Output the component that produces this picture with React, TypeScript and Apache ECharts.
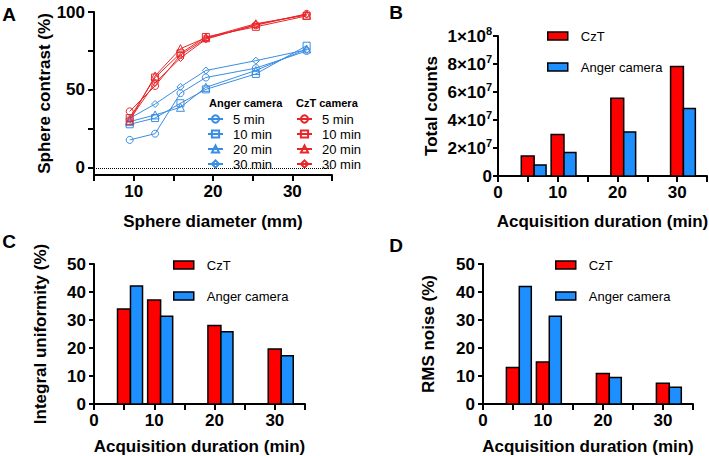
import React, { useEffect, useRef } from 'react';
import * as echarts from 'echarts';

// ---------- data ----------
const diameters = [9.5, 12.7, 15.9, 19.1, 25.4, 31.8];
const angerContrast5 = [18, 22, 48, 58, 64, 75];
const angerContrast10 = [28, 32, 41.5, 50.4, 60.3, 78.4];
const angerContrast20 = [29.7, 34, 38.9, 51.7, 62.5, 76.3];
const angerContrast30 = [31.8, 41, 52, 62.5, 68.8, 75.8];
const cztContrast5 = [36.3, 52.6, 72.4, 83, 91.5, 98.8];
const cztContrast10 = [32, 58, 73.5, 84, 90.5, 97.5];
const cztContrast20 = [30.5, 59, 76.5, 83.5, 92.5, 98];
const cztContrast30 = [31, 54.5, 70.5, 82.5, 92, 98.5];
const contrastTickValues = [0, 25, 50, 75, 100];
const contrastLabelValues = [0, 50, 100];

const durations = [5, 10, 20, 30];
const cztCounts = [14.3e6, 29.6e6, 55.6e6, 78.3e6];
const angerCounts = [7.9e6, 16.7e6, 31.5e6, 48.2e6];
const cztUniformity = [33.9, 37.1, 28.0, 19.6];
const angerUniformity = [42.1, 31.3, 25.8, 17.2];
const cztNoise = [13.0, 15.0, 10.9, 7.4];
const angerNoise = [42.0, 31.3, 9.5, 6.0];

const minuteLabels = ['5 min', '10 min', '20 min', '30 min'];
const symbols = ['circle', 'rect', 'triangle', 'diamond'];

// ---------- style ----------
const FONT = '"Liberation Sans", Arial, sans-serif';
const LINE_BLUE = '#3a8de3';
const LINE_RED = '#e8262a';
const BAR_RED = '#ff0000';
const BAR_BLUE = '#1e8fff';
// bar extents, in minutes relative to the duration value
const RED_FROM = -1.1;
const RED_TO = 1.05;
const BLUE_FROM = 1.05;
const BLUE_TO = 3.05;

const axisLineStyle = { color: '#000', width: 2 };
const tickLabel = { fontSize: 17, fontWeight: 'bold', color: '#000', fontFamily: FONT };
const nameStyle = { fontSize: 17, fontWeight: 'bold', color: '#000', fontFamily: FONT };

function makeXAxis(gridIndex: number, min: number, name: string, nameGap: number) {
  return {
    gridIndex,
    type: 'value',
    min,
    max: 35,
    interval: 5,
    axisLine: { show: true, onZero: false, lineStyle: axisLineStyle },
    axisTick: { show: true, length: 6, lineStyle: axisLineStyle },
    axisLabel: {
      ...tickLabel,
      margin: 8,
      formatter: (v: number) => (v % 10 === 0 ? String(v) : ''),
    },
    splitLine: { show: false },
    name,
    nameLocation: 'middle',
    nameGap,
    nameTextStyle: nameStyle,
  };
}

function makeBarSeries(name: string, axis: number, values: number[], color: string, from: number, to: number) {
  return {
    type: 'custom',
    name,
    xAxisIndex: axis,
    yAxisIndex: axis,
    data: durations.map((d, i) => [d, values[i]]),
    encode: { x: 0, y: 1 },
    itemStyle: { color, borderColor: '#000', borderWidth: 1.5 },
    silent: true,
    renderItem: (_params: any, api: any) => {
      const x = api.value(0) as number;
      const y = api.value(1) as number;
      const tl = api.coord([x + from, y]);
      const br = api.coord([x + to, 0]);
      return {
        type: 'rect',
        shape: { x: tl[0], y: tl[1], width: br[0] - tl[0], height: br[1] - tl[1] },
        style: { fill: color, stroke: '#000', lineWidth: 1.5 },
      };
    },
  };
}

function makeLineSeries(name: string, values: number[], color: string, symbol: string, withZeroLine: boolean) {
  const s: any = {
    type: 'line',
    name,
    xAxisIndex: 0,
    yAxisIndex: 0,
    data: diameters.map((d, i) => [d, values[i]]),
    symbol,
    symbolSize: symbol === 'triangle' ? 8 : 7,
    lineStyle: { color, width: 1 },
    itemStyle: { color: 'rgba(0,0,0,0)', borderColor: color, borderWidth: 1 },
    silent: true,
  };
  if (withZeroLine) {
    s.markLine = {
      silent: true,
      symbol: 'none',
      label: { show: false },
      lineStyle: { color: '#000', type: 'dotted', width: 1 },
      data: [{ yAxis: 0 }],
    };
  }
  return s;
}

function barLegend(left: number, top: number) {
  return {
    orient: 'vertical',
    left,
    top,
    padding: 0,
    itemGap: 17,
    itemWidth: 20,
    itemHeight: 8,
    selectedMode: false,
    textStyle: { fontSize: 13, color: '#000', fontFamily: FONT, lineHeight: 14, padding: [0, 0, 0, 8] },
    data: [
      { name: 'CzT', icon: 'rect', itemStyle: { color: BAR_RED, borderColor: '#000', borderWidth: 1.5 } },
      { name: 'Anger camera', icon: 'rect', itemStyle: { color: BAR_BLUE, borderColor: '#000', borderWidth: 1.5 } },
    ],
  };
}

function lineLegend(left: number, prefix: string) {
  return {
    orient: 'vertical',
    left,
    top: 112.5,
    padding: 0,
    itemGap: 2,
    itemWidth: 15,
    itemHeight: 9,
    selectedMode: false,
    formatter: (n: string) => n.split(', ')[1],
    textStyle: { fontSize: 13, color: '#000', fontFamily: FONT, lineHeight: 13, padding: [0, 0, 0, 5] },
    data: minuteLabels.map((m) => prefix + ', ' + m),
  };
}

function letter(text: string, x: number, y: number) {
  return {
    type: 'text',
    x,
    y,
    style: { text, fontSize: 19, fontWeight: 'bold', fontFamily: FONT, fill: '#000', align: 'center', verticalAlign: 'middle' },
  };
}

function header(text: string, x: number, y: number) {
  return {
    type: 'text',
    x,
    y,
    style: { text, fontSize: 11, fontWeight: 'bold', fontFamily: FONT, fill: '#000', align: 'left', verticalAlign: 'middle' },
  };
}

export default function App() {
  const ref = useRef<HTMLDivElement>(null);

  useEffect(() => {
    document.body.style.margin = '0';
    if (!ref.current) return;
    const chart = echarts.init(ref.current, null, { renderer: 'svg' });

    const angerSets = [angerContrast5, angerContrast10, angerContrast20, angerContrast30];
    const cztSets = [cztContrast5, cztContrast10, cztContrast20, cztContrast30];

    const option: any = {
      animation: false,
      textStyle: { fontFamily: FONT },
      grid: [
        { left: 94, top: 12, width: 238, height: 163, containLabel: false, outerBoundsMode: 'none' },
        { left: 498, top: 36, width: 209, height: 140, containLabel: false, outerBoundsMode: 'none' },
        { left: 94, top: 264, width: 211, height: 140, containLabel: false, outerBoundsMode: 'none' },
        { left: 483, top: 264, width: 210, height: 140, containLabel: false, outerBoundsMode: 'none' },
      ],
      xAxis: [
        makeXAxis(0, 5, 'Sphere diameter (mm)', 38),
        makeXAxis(1, 0, 'Acquisition duration (min)', 37),
        makeXAxis(2, 0, 'Acquisition duration (min)', 34),
        makeXAxis(3, 0, 'Acquisition duration (min)', 34),
      ],
      yAxis: [
        {
          gridIndex: 0,
          type: 'value',
          min: -4.5,
          max: 100,
          axisLine: { show: true, onZero: false, lineStyle: axisLineStyle },
          axisTick: { show: true, length: 6, lineStyle: axisLineStyle, customValues: contrastTickValues },
          axisLabel: { ...tickLabel, margin: 9, customValues: contrastLabelValues },
          splitLine: { show: false },
          name: 'Sphere contrast (%)',
          nameLocation: 'middle',
          nameRotate: 90,
          nameGap: 37,
          nameTextStyle: nameStyle,
        },
        {
          gridIndex: 1,
          type: 'value',
          min: 0,
          max: 1e8,
          interval: 2e7,
          axisLine: { show: true, onZero: false, lineStyle: axisLineStyle },
          axisTick: { show: true, length: 5, lineStyle: axisLineStyle },
          axisLabel: {
            margin: 6,
            formatter: (v: number) => {
              if (v === 0) return '{a|0}';
              const e = Math.floor(Math.log10(v) + 1e-9);
              const m = Math.round(v / Math.pow(10, e));
              return '{a|' + m + '×10}{b|' + e + '}';
            },
            rich: {
              a: { fontSize: 17, fontWeight: 'bold', color: '#000', fontFamily: FONT, lineHeight: 22 },
              b: { fontSize: 11, fontWeight: 'bold', color: '#000', fontFamily: FONT, lineHeight: 12, verticalAlign: 'top' },
            },
          },
          splitLine: { show: false },
          name: 'Total counts',
          nameLocation: 'middle',
          nameRotate: 90,
          nameGap: 58,
          nameTextStyle: nameStyle,
        },
        {
          gridIndex: 2,
          type: 'value',
          min: 0,
          max: 50,
          interval: 10,
          axisLine: { show: true, onZero: false, lineStyle: axisLineStyle },
          axisTick: { show: true, length: 5, lineStyle: axisLineStyle },
          axisLabel: { ...tickLabel, margin: 8 },
          splitLine: { show: false },
          name: 'Integral uniformity (%)',
          nameLocation: 'middle',
          nameRotate: 90,
          nameGap: 45,
          nameTextStyle: nameStyle,
        },
        {
          gridIndex: 3,
          type: 'value',
          min: 0,
          max: 50,
          interval: 10,
          axisLine: { show: true, onZero: false, lineStyle: axisLineStyle },
          axisTick: { show: true, length: 5, lineStyle: axisLineStyle },
          axisLabel: { ...tickLabel, margin: 8 },
          splitLine: { show: false },
          name: 'RMS noise (%)',
          nameLocation: 'middle',
          nameRotate: 90,
          nameGap: 46,
          nameTextStyle: nameStyle,
        },
      ],
      legend: [
        lineLegend(207, 'Anger camera'),
        lineLegend(296, 'CzT camera'),
        barLegend(547, 29),
        barLegend(173, 258),
        barLegend(555, 258),
      ],
      graphic: [
        letter('A', 9, 14),
        letter('B', 396, 12),
        letter('C', 9, 241),
        letter('D', 396, 245),
        header('Anger camera', 209, 103),
        header('CzT camera', 296, 103),
      ],
      series: [
        ...angerSets.map((vals, i) =>
          makeLineSeries('Anger camera, ' + minuteLabels[i], vals, LINE_BLUE, symbols[i], i === 0)
        ),
        ...cztSets.map((vals, i) => makeLineSeries('CzT camera, ' + minuteLabels[i], vals, LINE_RED, symbols[i], false)),
        makeBarSeries('CzT', 1, cztCounts, BAR_RED, RED_FROM, RED_TO),
        makeBarSeries('Anger camera', 1, angerCounts, BAR_BLUE, BLUE_FROM, BLUE_TO),
        makeBarSeries('CzT', 2, cztUniformity, BAR_RED, RED_FROM, RED_TO),
        makeBarSeries('Anger camera', 2, angerUniformity, BAR_BLUE, BLUE_FROM, BLUE_TO),
        makeBarSeries('CzT', 3, cztNoise, BAR_RED, RED_FROM, RED_TO),
        makeBarSeries('Anger camera', 3, angerNoise, BAR_BLUE, BLUE_FROM, BLUE_TO),
      ],
    };

    chart.setOption(option);
    return () => chart.dispose();
  }, []);

  return <div ref={ref} style={{ width: 709, height: 456, position: 'absolute', left: 0, top: 0 }} />;
}
